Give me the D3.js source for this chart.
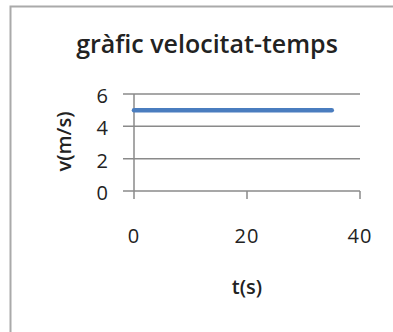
<!DOCTYPE html>
<html>
<head>
<meta charset="utf-8">
<script src="https://cdn.jsdelivr.net/npm/d3@7"></script>
<style>
  body { margin: 0; background: #fff; }
  text { font-family: "Open Sans", sans-serif; fill: #222; }
</style>
</head>
<body>
<div id="chart"></div>
<script>
const WIDTH = 393;
const HEIGHT = 332;

const title = "gràfic velocitat-temps";
const xLabel = "t(s)";
const yLabel = "v(m/s)";
const times = [0, 35];
const speeds = [5, 5];
const xTicks = [0, 20, 40];
const yTicks = [0, 2, 4, 6];

const margin = { left: 134, right: 33, top: 94, bottom: 141 };

const svg = d3.select("#chart")
  .append("svg")
  .attr("width", WIDTH)
  .attr("height", HEIGHT);

// chart frame, cut by the picture edge on the right and bottom
svg.append("rect")
  .attr("x", 10.5)
  .attr("y", 6.5)
  .attr("width", 420)
  .attr("height", 360)
  .attr("fill", "none")
  .attr("stroke", "#aaa")
  .attr("stroke-width", 2);

const x = d3.scaleLinear()
  .domain([0, 40])
  .range([margin.left, WIDTH - margin.right]);

const y = d3.scaleLinear()
  .domain([0, 6])
  .range([HEIGHT - margin.bottom, margin.top]);

// horizontal gridlines with outer tick stub
svg.append("g")
  .selectAll("line")
  .data(yTicks)
  .join("line")
  .attr("x1", margin.left - 11)
  .attr("x2", x(40))
  .attr("y1", d => y(d))
  .attr("y2", d => y(d))
  .attr("stroke", "#8a8a8a")
  .attr("stroke-width", 1.5);

// y axis
svg.append("line")
  .attr("x1", x(0)).attr("x2", x(0))
  .attr("y1", y(6)).attr("y2", y(0))
  .attr("stroke", "#8a8a8a")
  .attr("stroke-width", 1.5);

// x ticks
svg.append("g")
  .selectAll("line")
  .data(xTicks)
  .join("line")
  .attr("x1", d => x(d))
  .attr("x2", d => x(d))
  .attr("y1", y(0))
  .attr("y2", y(0) + 8)
  .attr("stroke", "#8a8a8a")
  .attr("stroke-width", 1.5);

svg.append("g")
  .selectAll("text")
  .data(yTicks)
  .join("text")
  .attr("x", 108)
  .attr("y", d => y(d) + 2)
  .attr("dy", "0.35em")
  .attr("text-anchor", "end")
  .attr("font-size", 20)
  .text(d => d);

svg.append("g")
  .selectAll("text")
  .data(xTicks)
  .join("text")
  .attr("x", d => x(d))
  .attr("y", 243)
  .attr("text-anchor", "middle")
  .attr("font-size", 20)
  .attr("letter-spacing", 1)
  .text(d => d);

// data line
svg.append("path")
  .datum(times.map((t, i) => [t, speeds[i]]))
  .attr("d", d3.line().x(d => x(d[0])).y(d => y(d[1])))
  .attr("fill", "none")
  .attr("stroke", "#4a7dbf")
  .attr("stroke-width", 4.5)
  .attr("stroke-linecap", "round");

svg.append("text")
  .attr("x", 207)
  .attr("y", 53)
  .attr("text-anchor", "middle")
  .attr("font-size", 25)
  .attr("font-weight", 600)
  .text(title);

svg.append("text")
  .attr("x", x(20))
  .attr("y", 294)
  .attr("text-anchor", "middle")
  .attr("font-size", 20)
  .attr("font-weight", 600)
  .text(xLabel);

svg.append("text")
  .attr("transform", `translate(71,${y(3) - 1}) rotate(-90)`)
  .attr("text-anchor", "middle")
  .attr("font-size", 20)
  .attr("font-weight", 600)
  .text(yLabel);
</script>
</body>
</html>
